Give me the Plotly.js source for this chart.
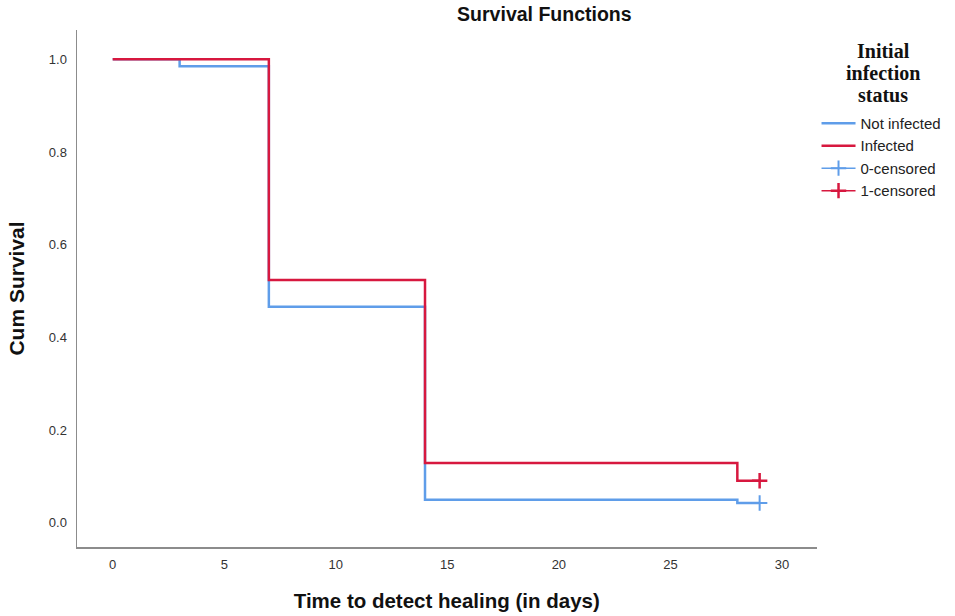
<!DOCTYPE html>
<html>
<head>
<meta charset="utf-8">
<script src="https://cdn.plot.ly/plotly-3.0.1.min.js"></script>
<style>html,body{margin:0;padding:0;background:#fff;}#chart{width:955px;height:616px;}</style>
</head>
<body>
<div id="chart"></div>
<script>
// Data
const notInfectedTimes = [0, 3, 7, 14, 28, 29];
const notInfectedSurv  = [1.0, 0.985, 0.466, 0.050, 0.043, 0.043];
const infectedTimes    = [0, 7, 14, 28, 29];
const infectedSurv     = [1.0, 0.524, 0.129, 0.091, 0.091];
const censor0Time = [29];
const censor0Surv = [0.043];
const censor1Time = [29];
const censor1Surv = [0.091];
const xTicks = [0, 5, 10, 15, 20, 25, 30];
const yTicks = [0.0, 0.2, 0.4, 0.6, 0.8, 1.0];
const legendTitleLines = ['Initial', 'infection', 'status'];

const blue = '#5f9de9';
const red = '#d7183f';

const traces = [
  {x: notInfectedTimes, y: notInfectedSurv, name: 'Not infected', mode: 'lines',
   line: {color: blue, width: 2.5, shape: 'hv'}},
  {x: infectedTimes, y: infectedSurv, name: 'Infected', mode: 'lines',
   line: {color: red, width: 2.5, shape: 'hv'}},
  {x: censor0Time, y: censor0Surv, name: '0-censored', mode: 'lines+markers',
   line: {color: blue, width: 1.5},
   marker: {symbol: 'cross-thin', size: 11, color: blue, line: {color: blue, width: 2}}},
  {x: censor1Time, y: censor1Surv, name: '1-censored', mode: 'lines+markers',
   line: {color: red, width: 1.5},
   marker: {symbol: 'cross-thin', size: 11, color: red, line: {color: red, width: 2.5}}}
];

const titleY = [0.9594, 0.9168, 0.8743];
const annotations = legendTitleLines.map((t, i) => ({
  text: '<b>' + t + '</b>', xref: 'paper', yref: 'paper', x: 1.0902, y: titleY[i],
  xanchor: 'center', yanchor: 'middle', showarrow: false,
  font: {family: 'Liberation Serif, Times New Roman, serif', size: 20, color: '#111'}
}));

const layout = {
  width: 955, height: 616,
  margin: {l: 77, r: 135, t: 30, b: 69},
  paper_bgcolor: '#fff', plot_bgcolor: '#fff',
  font: {family: 'Liberation Sans, Arial, sans-serif', color: '#222'},
  title: {text: '<b>Survival Functions</b>', font: {size: 19.5, color: '#111'}, x: 0.57, xanchor: 'center', y: 0.988, yanchor: 'top'},
  xaxis: {
    range: [-1.6, 31.55], tickvals: xTicks, ticktext: xTicks.map(String),
    showgrid: false, zeroline: false, showline: true, linecolor: '#8c8c8c', linewidth: 1.5,
    ticks: '', ticklabelstandoff: 5, tickfont: {size: 13, color: '#333'},
    title: {text: '<b>Time to detect healing (in days)</b>', font: {size: 20.5, color: '#111'}, standoff: 22}
  },
  yaxis: {
    range: [-0.052, 1.063], tickvals: yTicks, ticktext: yTicks.map(v => v.toFixed(1)),
    showgrid: false, zeroline: false, showline: true, linecolor: '#8c8c8c', linewidth: 1.5,
    ticks: '', ticklabelstandoff: 6, tickfont: {size: 13, color: '#333'},
    title: {text: '<b>Cum Survival</b>', font: {size: 21, color: '#111'}, standoff: 18}
  },
  annotations: annotations,
  showlegend: true,
  legend: {
    xref: 'container', yref: 'container',
    x: 0.855, xanchor: 'left', y: 0.8265, yanchor: 'top',
    bgcolor: 'rgba(0,0,0,0)', tracegroupgap: 0, itemwidth: 34,
    font: {size: 15, color: '#222'}
  }
};

Plotly.newPlot('chart', traces, layout, {displayModeBar: false, staticPlot: true});
</script>
</body>
</html>
